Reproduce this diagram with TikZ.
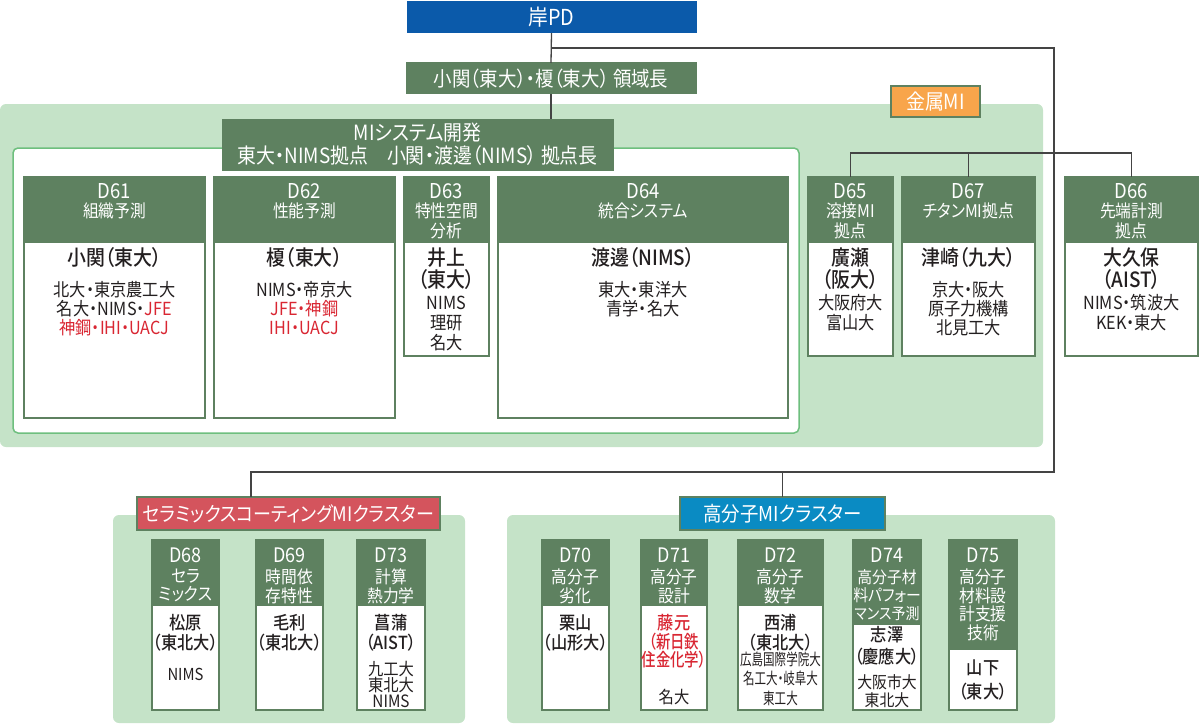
\documentclass[tikz,border=0pt]{standalone}
\usepackage{fontspec}
\setmainfont{Noto Sans CJK JP}[FakeStretch=0.9,RawFeature=+palt,BoldFont={Noto Sans CJK JP Medium}]
\newfontfamily\cnd{Noto Sans CJK JP}[FakeStretch=0.8,RawFeature=+palt,BoldFont={Noto Sans CJK JP Medium}]
\newfontfamily\cndx{Noto Sans CJK JP}[FakeStretch=0.72,RawFeature=+palt]
\definecolor{hg}{HTML}{5E8160}
\definecolor{pnl}{HTML}{C5E3C8}
\definecolor{ing}{HTML}{6EBF7E}
\definecolor{pdb}{HTML}{0B5AAA}
\definecolor{clb}{HTML}{0A8BC3}
\definecolor{clr}{HTML}{D4545D}
\definecolor{orn}{HTML}{F8A54B}
\definecolor{rd}{HTML}{D92632}
\definecolor{lc}{HTML}{444444}
\definecolor{tk}{HTML}{231F20}
\newcommand{\fsz}[2]{\fontsize{#1}{#2}\selectfont}
\newcommand{\bx}[6]{\node[#6, minimum width={(#3-#2)*1pt}, minimum height={(#5-#4)*1pt}, anchor=north west] (#1) at (#2,#4) {};}
\tikzset{
  conn/.style={draw=lc, line width=1.3pt},
  hdrbox/.style={fill=hg, draw=hg, line width=1.5pt, inner sep=0pt, outer sep=0pt},
  bodybox/.style={fill=white, draw=hg, line width=1.8pt, inner sep=0pt, outer sep=0pt},
  tb/.style={inner sep=0pt, outer sep=0pt, align=center},
  wt/.style={tb, text=white},
  bk/.style={tb, text=tk},
  lbl/.style={inner sep=0pt, outer sep=0pt, align=center, text=white, anchor=north west},
}
\begin{document}
\begin{tikzpicture}[x=1pt,y=-1pt]
\useasboundingbox (0,0) rectangle (1200,725);
% panels
\fill[pnl, rounded corners=6pt] (0,104) rectangle (1043,447);
\filldraw[fill=white, draw=ing, line width=1.5pt, rounded corners=5pt] (13,148) rectangle (799,433);
\fill[pnl, rounded corners=6pt] (113,515) rectangle (465,723);
\fill[pnl, rounded corners=6pt] (507,515) rectangle (1055,723);

% labelled boxes
\node[lbl, fill=pdb, draw=pdb, line width=1pt, minimum width=289pt, minimum height=31pt, font=\fsz{22}{25}] (pd) at (407,2) {岸PD};
\node[lbl, fill=hg, draw=hg, line width=1pt, minimum width=290pt, minimum height=31pt, font=\fsz{20.5}{23}] (lead) at (406,63) {小関（東大）・榎（東大） 領域長};
\node[lbl, fill=hg, draw=hg, line width=1pt, minimum width=391pt, minimum height=51pt, font=\fsz{21}{23}] (mis) at (222,119) {MIシステム開発\\東大・NIMS拠点　小関・渡邊（NIMS） 拠点長};
\node[lbl, fill=orn, draw=hg, line width=1.5pt, minimum width=89pt, minimum height=31pt, font=\fsz{21}{24}] (kin) at (891,86) {金属MI};
\node[lbl, fill=clr, draw=hg, line width=2pt, minimum width=303pt, minimum height=33pt, font=\fsz{20}{24}] (cer) at (137,497) {セラミックスコーティングMIクラスター};
\node[lbl, fill=clb, draw=hg, line width=2pt, minimum width=205pt, minimum height=33pt, font=\fsz{20.5}{24}] (pol) at (680,497) {高分子MIクラスター};

% unit boxes, top row
\bx{b61}{24}{205}{242}{418}{bodybox}  \bx{h61}{24}{205}{177}{242}{hdrbox}
\bx{b62}{214}{395}{242}{418}{bodybox} \bx{h62}{214}{395}{177}{242}{hdrbox}
\bx{b63}{404}{489}{242}{356}{bodybox} \bx{h63}{404}{489}{177}{242}{hdrbox}
\bx{b64}{498}{788}{242}{418}{bodybox} \bx{h64}{498}{788}{177}{242}{hdrbox}
\bx{b65}{808}{893}{242}{356}{bodybox} \bx{h65}{808}{893}{177}{242}{hdrbox}
\bx{b67}{902}{1035}{242}{356}{bodybox} \bx{h67}{902}{1035}{177}{242}{hdrbox}
\bx{b66}{1065}{1198}{242}{356}{bodybox} \bx{h66}{1065}{1198}{177}{242}{hdrbox}
% unit boxes, bottom row
\bx{b68}{152}{219}{605}{710}{bodybox} \bx{h68}{152}{219}{540}{605}{hdrbox}
\bx{b69}{256}{323}{605}{710}{bodybox} \bx{h69}{256}{323}{540}{605}{hdrbox}
\bx{b73}{357}{425}{605}{710}{bodybox} \bx{h73}{357}{425}{540}{605}{hdrbox}
\bx{b70}{542}{609}{605}{710}{bodybox} \bx{h70}{542}{609}{540}{605}{hdrbox}
\bx{b71}{641}{707}{605}{710}{bodybox} \bx{h71}{641}{707}{540}{605}{hdrbox}
\bx{b72}{738}{823}{605}{710}{bodybox} \bx{h72}{738}{823}{540}{605}{hdrbox}
\bx{b74}{853}{921}{624}{710}{bodybox} \bx{h74}{853}{921}{540}{624}{hdrbox}
\bx{b75}{949}{1017}{649}{710}{bodybox} \bx{h75}{949}{1017}{540}{649}{hdrbox}

% connectors
\coordinate (jt) at (551.5,48);
\coordinate (jr) at (1054,48);
\coordinate (jb) at (1054,472);
\coordinate (jc) at (251,472);
\coordinate (jm) at (968.5,153);
\draw[conn] (pd.south) -- (lead.north);
\draw[conn] (jt) -- (jr) -- (jb) -- (jc) -- (jc |- cer.north);
\draw[conn] (pol.north |- jb) -- (pol.north);
\draw[conn] (lead.south) -- (lead.south |- mis.north);
\draw[conn] (h65.north) |- (jm) -| (h66.north);
\draw[conn] (jm) -- (h67.north);

% top headers text
\node[wt, font=\fsz{20.5}{22}] (d61) at (114.5,191) {D61};
\node[wt, anchor=north, font=\fsz{17.5}{19.5}] (e61) at (114.5,202.8) {組織予測};
\node[wt, font=\fsz{20.5}{22}] (d62) at (304.5,191) {D62};
\node[wt, anchor=north, font=\fsz{17.5}{19.5}] (e62) at (304.5,202.8) {性能予測};
\node[wt, font=\fsz{20.5}{22}] (d63) at (446.5,191) {D63};
\node[wt, anchor=north, font=\fsz{17.5}{19.5}] (e63) at (446.5,202.8) {特性空間\\分析};
\node[wt, font=\fsz{20.5}{22}] (d64) at (643,191) {D64};
\node[wt, anchor=north, font=\fsz{17.5}{19.5}] (e64) at (643,202.8) {統合システム};
\node[wt, font=\fsz{20.5}{22}] (d65) at (850.5,191) {D65};
\node[wt, anchor=north, font=\fsz{17.5}{19.5}] (e65) at (850.5,202.8) {溶接MI\\拠点};
\node[wt, font=\fsz{20.5}{22}] (d67) at (968.5,191) {D67};
\node[wt, anchor=north, font=\fsz{17.5}{19.5}] (e67) at (968.5,202.8) {チタンMI拠点};
\node[wt, font=\fsz{20.5}{22}] (d66) at (1131.5,191) {D66};
\node[wt, anchor=north, font=\fsz{17.5}{19.5}] (e66) at (1131.5,202.8) {先端計測\\拠点};

% top bodies text
\node[bk, font=\bfseries\fsz{21}{24}] (n61) at (114.5,258) {小関（東大）};
\node[bk, anchor=north, font=\fsz{18}{19}] (m61) at (114.5,281) {北大・東京農工大\\名大・NIMS・\textcolor{rd}{JFE}\\\textcolor{rd}{神鋼・IHI・UACJ}};
\node[bk, font=\bfseries\fsz{21}{24}] (n62) at (304.5,258) {榎（東大）};
\node[bk, anchor=north, font=\fsz{18}{19}] (m62) at (304.5,281) {NIMS・帝京大\\\textcolor{rd}{JFE・神鋼}\\\textcolor{rd}{IHI・UACJ}};
\node[bk, anchor=north, font=\bfseries\fsz{21}{22}] (n63) at (446.5,248.2) {井上\\（東大）};
\node[bk, anchor=north, font=\fsz{18}{20}] (m63) at (446.5,296.3) {NIMS\\理研\\名大};
\node[bk, font=\bfseries\fsz{21}{24}] (n64) at (643,258) {渡邊（NIMS）};
\node[bk, anchor=north, font=\fsz{18}{19}] (m64) at (643,281) {東大・東洋大\\青学・名大};
\node[bk, anchor=north, font=\bfseries\fsz{21}{22}] (n65) at (850.5,248.2) {廣瀬\\（阪大）};
\node[bk, anchor=north, font=\fsz{18}{20}] (m65) at (850.5,294.5) {大阪府大\\富山大};
\node[bk, font=\bfseries\fsz{21}{24}] (n67) at (968.5,258) {津崎（九大）};
\node[bk, anchor=north, font=\fsz{18}{19}] (m67) at (968.5,281) {京大・阪大\\原子力機構\\北見工大};
\node[bk, anchor=north, font=\bfseries\fsz{21}{22}] (n66) at (1131.5,248.2) {大久保\\（AIST）};
\node[bk, anchor=north, font=\fsz{18}{20}] (m66) at (1131.5,294.5) {NIMS・筑波大\\KEK・東大};

% bottom headers text
\node[wt, font=\fsz{20}{22}] (d68) at (185.5,555.5) {D68};
\node[wt, anchor=north, font=\fsz{17.5}{18.5}] (e68) at (185.5,568.8) {セラ\\ミックス};
\node[wt, font=\fsz{20}{22}] (d69) at (289.5,555.5) {D69};
\node[wt, anchor=north, font=\fsz{17.5}{18.5}] (e69) at (289.5,568.8) {時間依\\存特性};
\node[wt, font=\fsz{20}{22}] (d73) at (391,555.5) {D73};
\node[wt, anchor=north, font=\fsz{17.5}{18.5}] (e73) at (391,568.8) {計算\\熱力学};
\node[wt, font=\fsz{20}{22}] (d70) at (575.5,555.5) {D70};
\node[wt, anchor=north, font=\fsz{17.5}{18.5}] (e70) at (575.5,568.8) {高分子\\劣化};
\node[wt, font=\fsz{20}{22}] (d71) at (674,555.5) {D71};
\node[wt, anchor=north, font=\fsz{17.5}{18.5}] (e71) at (674,568.8) {高分子\\設計};
\node[wt, font=\fsz{20}{22}] (d72) at (780.5,555.5) {D72};
\node[wt, anchor=north, font=\fsz{17.5}{18.5}] (e72) at (780.5,568.8) {高分子\\数学};
\node[wt, font=\fsz{20}{22}] (d74) at (887,555.5) {D74};
\node[wt, anchor=north, font=\fsz{16.5}{18}] (e74) at (887,569.2) {高分子材\\料パフォー\\{\fsz{15.5}{18}マンス予測}};
\node[wt, font=\fsz{20}{22}] (d75) at (983,555.5) {D75};
\node[wt, anchor=north, font=\fsz{17.5}{18.7}] (e75) at (983,568.8) {高分子\\材料設\\計支援\\技術};

% bottom bodies text
\node[bk, anchor=north, font=\bfseries\fsz{18}{20}] (n68) at (185.5,614.5) {松原\\（東北大）};
\node[bk, font=\fsz{16.5}{20}] (m68) at (185.5,674) {NIMS};
\node[bk, anchor=north, font=\bfseries\fsz{18}{20}] (n69) at (289.5,614.5) {毛利\\（東北大）};
\node[bk, anchor=north, font=\bfseries\fsz{18}{20}] (n73) at (391,614.5) {菖蒲\\（AIST）};
\node[bk, anchor=north, font=\fsz{17}{15.5}] (m73) at (391,661) {九工大\\東北大\\NIMS};
\node[bk, anchor=north, font=\bfseries\fsz{18}{20}] (n70) at (575.5,614.5) {栗山\\（山形大）};
\node[tb, text=rd, anchor=north, font=\bfseries\fsz{18}{18.5}] (n71) at (674,614.5) {藤元\\{\cnd（新日鉄}\\{\cnd 住金化学）}};
\node[bk, font=\fsz{17}{20}] (m71) at (674,697) {名大};
\node[bk, anchor=north, font=\bfseries\fsz{18}{20}] (n72) at (780.5,614.5) {西浦\\（東北大）};
\node[bk, anchor=north, font=\cndx\fsz{16}{19.5}] (m72) at (780.5,651.5) {広島国際学院大\\名工大・岐阜大\\東工大};
\node[bk, anchor=north, font=\bfseries\fsz{18}{22}] (n74) at (887,626.5) {志澤\\（慶應大）};
\node[bk, anchor=north, font=\fsz{16.5}{18}] (m74) at (887,674.2) {大阪市大\\東北大};
\node[bk, anchor=north, font=\bfseries\fsz{18}{24}] (n75) at (983,659.5) {山下\\（東大）};
\end{tikzpicture}
\end{document}
